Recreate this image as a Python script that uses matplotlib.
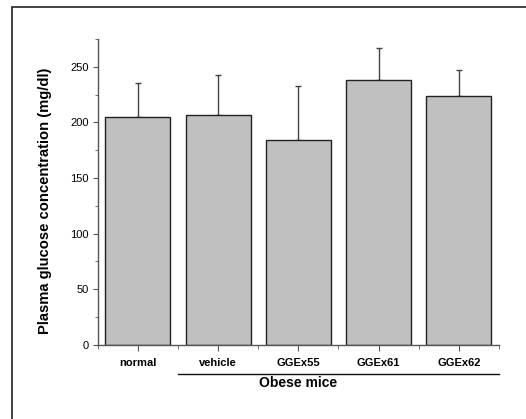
import matplotlib
matplotlib.use("Agg")
import matplotlib.pyplot as plt
from matplotlib.patches import Rectangle
from matplotlib.ticker import MultipleLocator, FixedLocator
import matplotlib.transforms as mtransforms

groups = ["normal", "vehicle", "GGEx55", "GGEx61", "GGEx62"]
glucose = [205, 207, 184, 238, 224]
glucose_err = [30, 36, 48.5, 29, 23.5]
y_label = "Plasma glucose concentration (mg/dl)"
bracket_label = "Obese mice"

plt.rcParams["font.family"] = ["Liberation Sans", "DejaVu Sans"]

W, H = 526, 419
fig = plt.figure(figsize=(W / 100, H / 100), dpi=100)
ax = fig.add_axes([97.7 / W, 1 - 344.7 / H, (499 - 97.7) / W, (344.7 - 39) / H])

x = list(range(1, len(groups) + 1))
axis_color = "#555555"

ax.bar(x, glucose, width=0.81, color="#c0c0c0", edgecolor="#222222", linewidth=1.0, zorder=2)
ax.errorbar(x, glucose, yerr=[[0] * len(groups), glucose_err], fmt="none",
            ecolor="#444444", elinewidth=1.0, capsize=2.5, capthick=1.0, zorder=1)

ax.set_xlim(0.5, 5.5)
ax.set_ylim(0, 275)
ax.set_xticks(x)
ax.set_xticklabels(groups, fontweight="bold", fontsize=8)
ax.xaxis.set_minor_locator(FixedLocator([0.5, 1.5, 2.5, 3.5, 4.5, 5.5]))
ax.yaxis.set_major_locator(MultipleLocator(50))
ax.yaxis.set_minor_locator(MultipleLocator(25))
ax.tick_params(axis="y", labelsize=8, color=axis_color, pad=3)
ax.tick_params(axis="x", which="major", length=4.5, color=axis_color, pad=5)
ax.tick_params(axis="x", which="minor", length=3, color=axis_color)
ax.tick_params(axis="y", which="major", length=3.5)
ax.tick_params(axis="y", which="minor", length=2.5, color=axis_color)

for side in ["top", "right"]:
    ax.spines[side].set_visible(False)
for side in ["left", "bottom"]:
    ax.spines[side].set_color(axis_color)
    ax.spines[side].set_linewidth(1.0)

ax.set_ylabel(y_label, fontweight="bold", fontsize=10.6)
ax.yaxis.set_label_coords(-0.114, 0.47)

# bracket under the obese groups
trans = mtransforms.blended_transform_factory(ax.transData, ax.transAxes)
ax.plot([1.5, 5.5], [-0.096, -0.096], color="#111111", lw=1.0,
        transform=trans, clip_on=False)
ax.text(3, -0.125, bracket_label, transform=trans, ha="center", va="center",
        fontweight="bold", fontsize=10)

# page frame (only left and top edges visible in the crop)
fig.add_artist(Rectangle((11.5 / W, -0.1), 2, (H - 7.5) / H + 0.1,
                         transform=fig.transFigure, fill=False,
                         edgecolor="#222222", lw=1.2))

fig.savefig("out.png", dpi=100)
